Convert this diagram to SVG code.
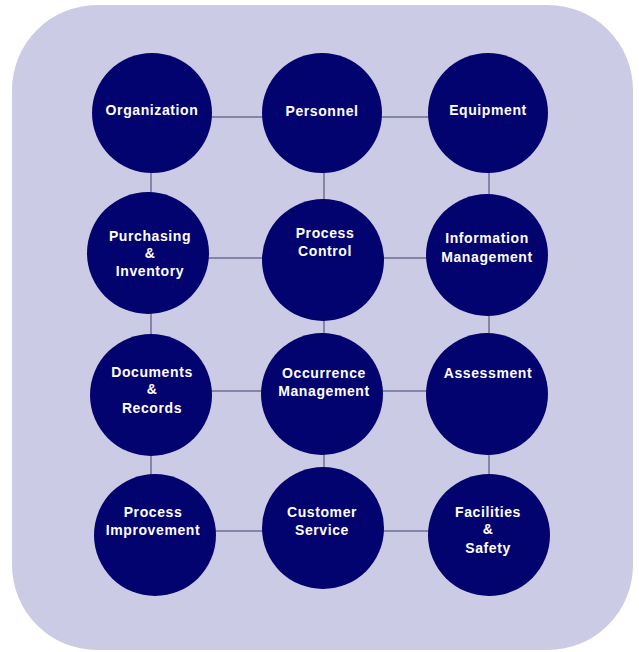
<svg xmlns="http://www.w3.org/2000/svg" width="639" height="652" viewBox="0 0 639 652">
<style>
.bg{fill:#cbcbe6}
.node circle{fill:#03036f}
.node text{fill:#ffffff;font-family:"Liberation Sans",Arial,sans-serif;font-size:14px;font-weight:bold;text-anchor:middle;letter-spacing:0.6px}
.conn line{stroke:#8585a8;stroke-width:2}
</style>
<rect width="639" height="652" fill="#ffffff"/>
<rect class="bg" x="12" y="5" width="621" height="645" rx="85" ry="85"/>
<g id="connectors" class="conn">
<line x1="152" y1="117" x2="488" y2="117"/>
<line x1="148" y1="258" x2="487" y2="258"/>
<line x1="151" y1="391" x2="487" y2="391"/>
<line x1="155" y1="531" x2="489" y2="531"/>
<line x1="151" y1="113" x2="151" y2="535"/>
<line x1="324" y1="113" x2="324" y2="528"/>
<line x1="489" y1="113" x2="489" y2="535"/>
</g>
<g id="organization" class="node"><circle cx="152" cy="113" r="60"/><text x="152" y="115">Organization</text></g>
<g id="personnel" class="node"><circle cx="322" cy="113" r="60"/><text x="322" y="116">Personnel</text></g>
<g id="equipment" class="node"><circle cx="488" cy="113" r="60"/><text x="488" y="115">Equipment</text></g>
<g id="purchasing" class="node"><circle cx="148" cy="253" r="61"/><text x="150" y="241">Purchasing</text><text x="150" y="258">&amp;</text><text x="150" y="276">Inventory</text></g>
<g id="process-control" class="node"><circle cx="323" cy="260" r="61"/><text x="325" y="238">Process</text><text x="325" y="256">Control</text></g>
<g id="information-management" class="node"><circle cx="487" cy="255" r="61"/><text x="487" y="243">Information</text><text x="487" y="262">Management</text></g>
<g id="documents" class="node"><circle cx="151" cy="395" r="61"/><text x="152" y="377">Documents</text><text x="152" y="394">&amp;</text><text x="152" y="413">Records</text></g>
<g id="occurrence" class="node"><circle cx="322" cy="394" r="61"/><text x="324" y="378">Occurrence</text><text x="324" y="396">Management</text></g>
<g id="assessment" class="node"><circle cx="487" cy="394" r="61"/><text x="488" y="378">Assessment</text></g>
<g id="process-improvement" class="node"><circle cx="155" cy="535" r="61"/><text x="153" y="517">Process</text><text x="153" y="535">Improvement</text></g>
<g id="customer-service" class="node"><circle cx="323" cy="528" r="61"/><text x="322" y="517">Customer</text><text x="322" y="535">Service</text></g>
<g id="facilities" class="node"><circle cx="489" cy="535" r="61"/><text x="488" y="517">Facilities</text><text x="488" y="534">&amp;</text><text x="488" y="553">Safety</text></g>
</svg>
